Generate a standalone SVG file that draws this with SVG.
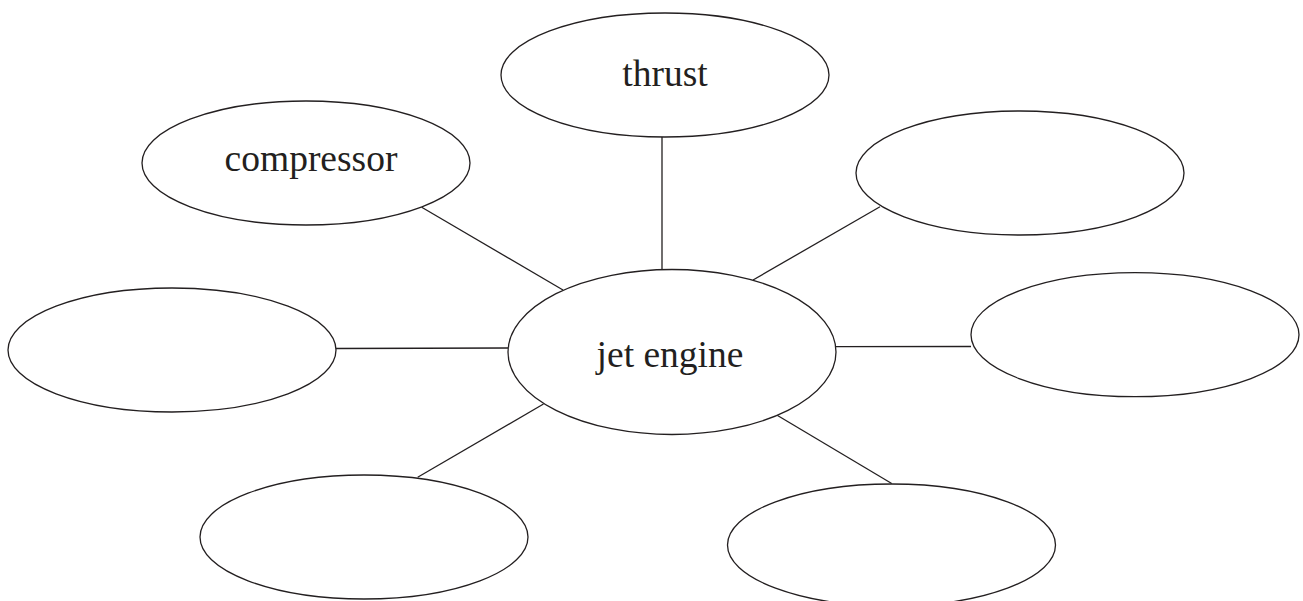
<svg xmlns="http://www.w3.org/2000/svg" width="1303" height="601" viewBox="0 0 1303 601">
<style>
.node{fill:#fff;stroke:#231f20;stroke-width:1.3}
.lbl{font-family:"Liberation Serif","Times New Roman",serif;font-size:37.5px;fill:#231f20;text-anchor:middle}
.conn line{stroke:#231f20;stroke-width:1.3}
</style>
<rect width="1303" height="601" fill="#fff"/>
<g id="connectors" class="conn">
<line x1="662" y1="137" x2="662" y2="270.5"/>
<line x1="421.7" y1="207.3" x2="563" y2="290"/>
<line x1="880" y1="206.7" x2="753" y2="280"/>
<line x1="336" y1="348.5" x2="508" y2="348"/>
<line x1="836" y1="346.7" x2="971" y2="346.5"/>
<line x1="543.5" y1="404" x2="417.7" y2="477.3"/>
<line x1="776.7" y1="415" x2="891.7" y2="483.5"/>
</g>
<g id="node-center"><ellipse class="node" cx="672" cy="352" rx="164" ry="82.5"/><text class="lbl" x="670" y="367">jet engine</text></g>
<g id="node-thrust"><ellipse class="node" cx="665" cy="75" rx="164" ry="62"/><text class="lbl" x="665" y="86">thrust</text></g>
<g id="node-compressor"><ellipse class="node" cx="306" cy="163" rx="164" ry="62"/><text class="lbl" x="311" y="171">compressor</text></g>
<g id="node-topright"><ellipse class="node" cx="1020" cy="173" rx="164" ry="62"/></g>
<g id="node-left"><ellipse class="node" cx="172" cy="350" rx="164" ry="62"/></g>
<g id="node-right"><ellipse class="node" cx="1135" cy="334.7" rx="164" ry="62"/></g>
<g id="node-bottomleft"><ellipse class="node" cx="364" cy="537" rx="164" ry="62"/></g>
<g id="node-bottomright"><ellipse class="node" cx="891.5" cy="545" rx="164" ry="61"/></g>
</svg>
